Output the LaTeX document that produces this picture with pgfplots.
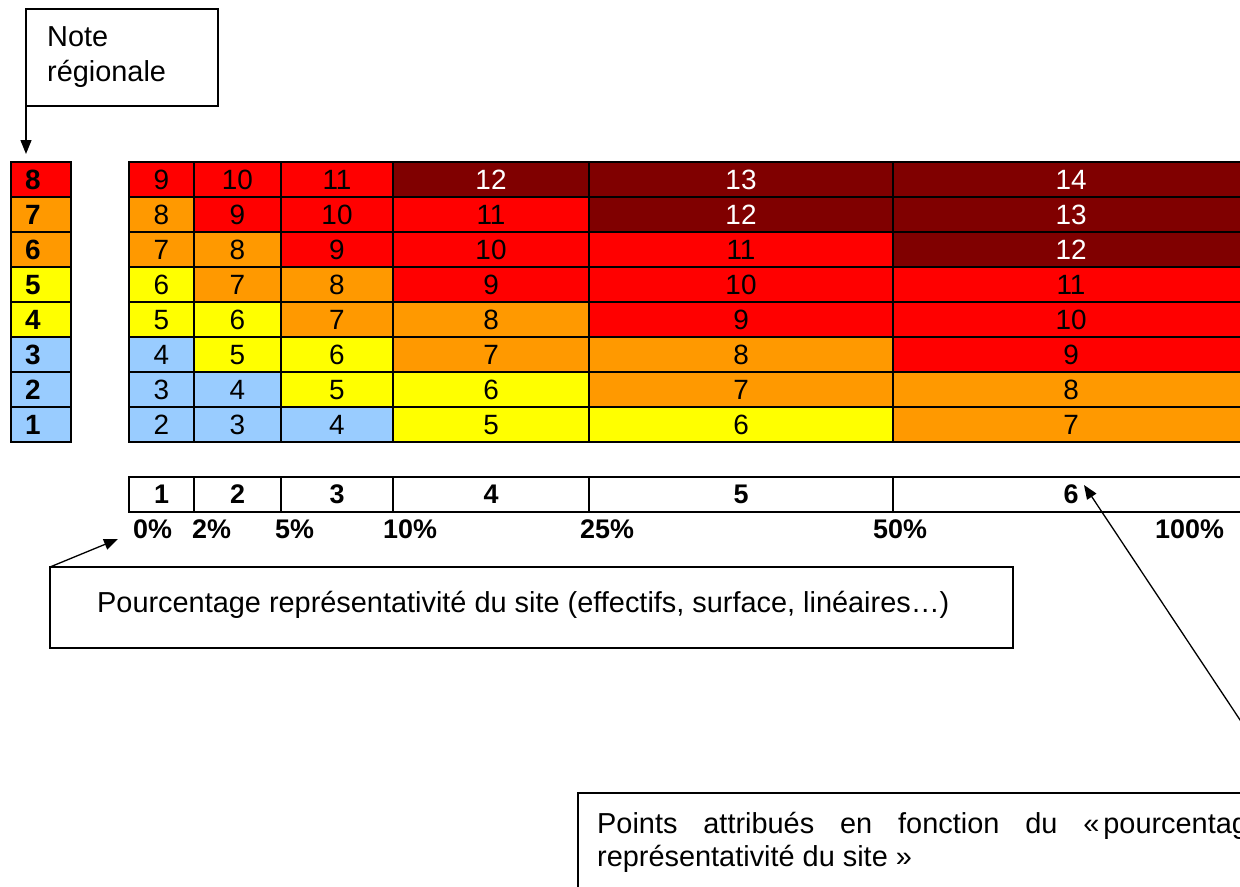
\documentclass[border=0pt]{standalone}
\usepackage{pgfplots}
\pgfplotsset{compat=1.18}
\usepackage{fontspec}
\setmainfont{Liberation Sans}
\usetikzlibrary{arrows.meta}
\definecolor{lb}{HTML}{99CCFF}
\definecolor{yel}{HTML}{FFFF00}
\definecolor{org}{HTML}{FF9900}
\definecolor{rd}{HTML}{FF0000}
\definecolor{dred}{HTML}{800000}
% one cell: x0 x1 ytop ybottom colour
\newcommand\cell[5]{\addplot[fill=#5, draw=black, line width=1.8bp] coordinates {(#1,#3) (#2,#3) (#2,#4) (#1,#4)} --cycle;}
% one row of the main grid: ytop ybottom and six colours
\newcommand\gridrow[8]{%
  \cell{129}{194}{#1}{#2}{#3}\cell{194}{281}{#1}{#2}{#4}\cell{281}{393}{#1}{#2}{#5}%
  \cell{393}{589}{#1}{#2}{#6}\cell{589}{893}{#1}{#2}{#7}\cell{893}{1249}{#1}{#2}{#8}}
\newcommand\cellfont{\fontsize{28}{34}\selectfont}
\newcommand\lblfont{\fontsize{27}{33}\selectfont}
\newcommand\txtfont{\fontsize{29}{35}\selectfont}
\begin{document}
\begin{tikzpicture}
\path[use as bounding box, clip] (0,0) rectangle (1240bp,887bp);
\begin{axis}[at={(0,0)}, anchor=south west, width=1240bp, height=887bp, scale only axis,
  xmin=0, xmax=1240, ymin=0, ymax=887, y dir=reverse, hide axis, clip=false]
% left column: regional note
\cell{11}{71}{162}{197}{rd}
\cell{11}{71}{197}{232}{org}
\cell{11}{71}{232}{267}{org}
\cell{11}{71}{267}{302}{yel}
\cell{11}{71}{302}{337}{yel}
\cell{11}{71}{337}{372}{lb}
\cell{11}{71}{372}{407}{lb}
\cell{11}{71}{407}{442}{lb}
% main grid
\gridrow{162}{197}{rd}{rd}{rd}{dred}{dred}{dred}
\gridrow{197}{232}{org}{rd}{rd}{rd}{dred}{dred}
\gridrow{232}{267}{org}{org}{rd}{rd}{rd}{dred}
\gridrow{267}{302}{yel}{org}{org}{rd}{rd}{rd}
\gridrow{302}{337}{yel}{yel}{org}{org}{rd}{rd}
\gridrow{337}{372}{lb}{yel}{yel}{org}{org}{rd}
\gridrow{372}{407}{lb}{lb}{yel}{yel}{org}{org}
\gridrow{407}{442}{lb}{lb}{lb}{yel}{yel}{org}
% bottom bar
\cell{129}{194}{477}{512}{white}
\cell{194}{281}{477}{512}{white}
\cell{281}{393}{477}{512}{white}
\cell{393}{589}{477}{512}{white}
\cell{589}{893}{477}{512}{white}
\cell{893}{1249}{477}{512}{white}
% cell values, black
\addplot[draw=none, mark=none, nodes near coords, point meta=explicit symbolic,
  every node near coord/.append style={anchor=base, inner sep=0pt, font=\cellfont, text=black}]
coordinates {
(161.5,189) [9] (237.5,189) [10] (337,189) [11]
(161.5,224) [8] (237.5,224) [9] (337,224) [10] (491,224) [11]
(161.5,259) [7] (237.5,259) [8] (337,259) [9] (491,259) [10] (741,259) [11]
(161.5,294) [6] (237.5,294) [7] (337,294) [8] (491,294) [9] (741,294) [10] (1071,294) [11]
(161.5,329) [5] (237.5,329) [6] (337,329) [7] (491,329) [8] (741,329) [9] (1071,329) [10]
(161.5,364) [4] (237.5,364) [5] (337,364) [6] (491,364) [7] (741,364) [8] (1071,364) [9]
(161.5,399) [3] (237.5,399) [4] (337,399) [5] (491,399) [6] (741,399) [7] (1071,399) [8]
(161.5,434) [2] (237.5,434) [3] (337,434) [4] (491,434) [5] (741,434) [6] (1071,434) [7]
};
% cell values, white
\addplot[draw=none, mark=none, nodes near coords, point meta=explicit symbolic,
  every node near coord/.append style={anchor=base, inner sep=0pt, font=\cellfont, text=white}]
coordinates {
(491,189) [12] (741,189) [13] (1071,189) [14]
(741,224) [12] (1071,224) [13]
(1071,259) [12]
};
% regional note labels
\addplot[draw=none, mark=none, nodes near coords, point meta=explicit symbolic,
  every node near coord/.append style={anchor=base west, inner sep=0pt, font=\cellfont\bfseries, text=black}]
coordinates {
(25,189) [8] (25,224) [7] (25,259) [6] (25,294) [5]
(25,329) [4] (25,364) [3] (25,399) [2] (25,434) [1]
};
% bottom bar labels
\addplot[draw=none, mark=none, nodes near coords, point meta=explicit symbolic,
  every node near coord/.append style={anchor=base, inner sep=0pt, font=\lblfont\bfseries, text=black}]
coordinates {
(161.5,503) [1] (237.5,503) [2] (337,503) [3] (491,503) [4] (741,503) [5] (1071,503) [6]
};
% percentage labels
\addplot[draw=none, mark=none, nodes near coords, point meta=explicit symbolic,
  every node near coord/.append style={anchor=base west, inner sep=0pt, font=\lblfont\bfseries, text=black}]
coordinates {
(133,538) [0\%] (192,538) [2\%] (275,538) [5\%] (383,538) [10\%]
(580,538) [25\%] (873,538) [50\%] (1155,538) [100\%]
};
% annotation boxes and arrows
\draw[line width=1.3bp] (axis cs:26,9) rectangle (axis cs:218,106);
\node[anchor=base west, inner sep=0pt, font=\txtfont] at (axis cs:47,47) {Note};
\node[anchor=base west, inner sep=0pt, font=\txtfont] at (axis cs:47,82) {régionale};
\draw[line width=1.3bp, -{Triangle[length=14bp, width=11bp]}] (axis cs:26,106) -- (axis cs:26,154);

\draw[line width=1.3bp] (axis cs:50,567) rectangle (axis cs:1013,648);
\node[anchor=base west, inner sep=0pt, font=\txtfont] at (axis cs:97,612) {Pourcentage représentativité du site (effectifs, surface, linéaires…)};
\draw[line width=1.3bp, -{Triangle[length=14bp, width=11bp]}] (axis cs:50,567) -- (axis cs:118,539);

\draw[line width=1.3bp] (axis cs:578,793) rectangle (axis cs:1340,940);
\node[anchor=base west, inner sep=0pt, font=\txtfont] at (axis cs:597,833) {\makebox[725bp][s]{Points attribués en fonction du \hbox{«\kern4bp pourcentage} de}};
\node[anchor=base west, inner sep=0pt, font=\txtfont] at (axis cs:597,866) {représentativité du site »};
\draw[line width=1.3bp, -{Triangle[length=14bp, width=11bp]}] (axis cs:1262,753) -- (axis cs:1084,485);
\end{axis}
\end{tikzpicture}
\end{document}
